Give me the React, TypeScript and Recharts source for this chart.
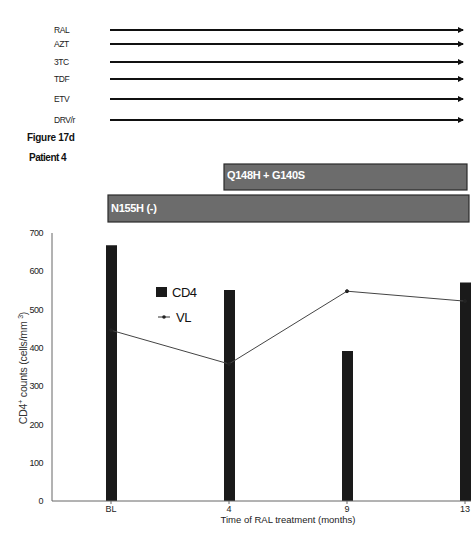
import { ComposedChart, Bar, Line, XAxis, YAxis } from 'recharts';

const times = ['BL', '4', '9', '13'];
const cd4Counts = [668, 551, 392, 571];
const viralLoad = [446, 358, 548, 522];
const yTicks = [0, 100, 200, 300, 400, 500, 600, 700];
const drugs = ['RAL', 'AZT', '3TC', 'TDF', 'ETV', 'DRV/r'];
const mutations = ['N155H (-)', 'Q148H + G140S'];

const data = times.map((t, i) => ({ time: t, cd4: cd4Counts[i], vl: viralLoad[i] }));

const FONT = '"Liberation Sans", Arial, sans-serif';
const drugRowY = [30, 44, 62, 79, 99, 120];
// [x, y, width, height] of the resistance boxes
const mutationBoxes = [
  [108, 195, 361, 27],
  [224, 164, 243, 26],
];

function LegendBox() {
  return (
    <g transform="translate(155,284)">
      <rect x={1} y={3} width={11} height={10} fill="#1a1a1a" />
      <text x={17} y={13} fontSize={13} fill="#111" letterSpacing={-0.5}>CD4</text>
      <line x1={3} y1={33} x2={15} y2={33} stroke="#333" strokeWidth={1} />
      <circle cx={9} cy={33} r={1.8} fill="#222" />
      <text x={21} y={38} fontSize={13} fill="#111" letterSpacing={-0.5}>VL</text>
    </g>
  );
}

function Annotations() {
  return (
    <svg
      width={471}
      height={548}
      style={{ position: 'absolute', left: 0, top: 0, pointerEvents: 'none', fontFamily: FONT }}
    >
      <defs>
        <marker id="head" markerWidth="6" markerHeight="6" refX="5" refY="3" orient="auto" markerUnits="userSpaceOnUse">
          <path d="M0,0 L6,3 L0,6 z" fill="#111" />
        </marker>
      </defs>
      {drugs.map((d, i) => (
        <g key={d}>
          <text x={54} y={drugRowY[i] + 3} fontSize={8.5} fill="#222" letterSpacing={-0.4}>{d}</text>
          <line x1={110} y1={drugRowY[i]} x2={463} y2={drugRowY[i]} stroke="#111" strokeWidth={2.2} markerEnd="url(#head)" />
        </g>
      ))}
      <text x={27} y={141} fontSize={10} fontWeight="bold" fill="#111" letterSpacing={-0.3}>Figure 17d</text>
      <text x={29} y={161} fontSize={10} fontWeight="bold" fill="#111" letterSpacing={-0.5}>Patient 4</text>
      {mutations.map((m, i) => {
        const [x, y, w, h] = mutationBoxes[i];
        return (
          <g key={m}>
            <rect x={x} y={y} width={w} height={h} fill="#6c6c6c" stroke="#2a2a2a" strokeWidth={1.2} />
            <text x={x + 3} y={i === 0 ? y + 17 : y + 15} fontSize={11} fontWeight="bold" fill="#fff" letterSpacing={-0.3}>{m}</text>
          </g>
        );
      })}
      <LegendBox />
      <text
        transform="translate(27,368) rotate(-90)"
        textAnchor="middle"
        fontSize={10.5}
        fill="#333"
        letterSpacing={-0.2}
      >
        CD4<tspan fontSize={7} dy={-4}>+</tspan><tspan dy={4}> counts (cells/mm </tspan><tspan fontSize={7} dy={-4}>3</tspan><tspan dy={4}>)</tspan>
      </text>
    </svg>
  );
}

export default function App() {
  return (
    <div style={{ position: 'absolute', left: 0, top: 0, width: 471, height: 548, overflow: 'hidden', background: '#fff', fontFamily: FONT }}>
      <ComposedChart
        width={530}
        height={548}
        data={data}
        margin={{ top: 233, right: 6, bottom: 0, left: 0 }}
      >
        <XAxis
          dataKey="time"
          height={47}
          stroke="#666"
          tickSize={3}
          tick={{ fontSize: 9, fill: '#222' }}
          label={{ value: 'Time of RAL treatment (months)', position: 'insideTop', offset: 15, fontSize: 9.5, fill: '#222' }}
        />
        <YAxis
          width={52}
          domain={[0, 700]}
          ticks={yTicks}
          stroke="#666"
          tickLine={false}
          tickMargin={3}
          tick={{ fontSize: 9, fill: '#222', letterSpacing: -0.5 }}
        />
        <Line
          dataKey="vl"
          name="VL"
          stroke="#444"
          strokeWidth={1}
          dot={{ r: 1.5, fill: '#222', stroke: '#222' }}
          isAnimationActive={false}
        />
        <Bar dataKey="cd4" name="CD4" fill="#1a1a1a" barSize={11} isAnimationActive={false} />
      </ComposedChart>
      <Annotations />
    </div>
  );
}
